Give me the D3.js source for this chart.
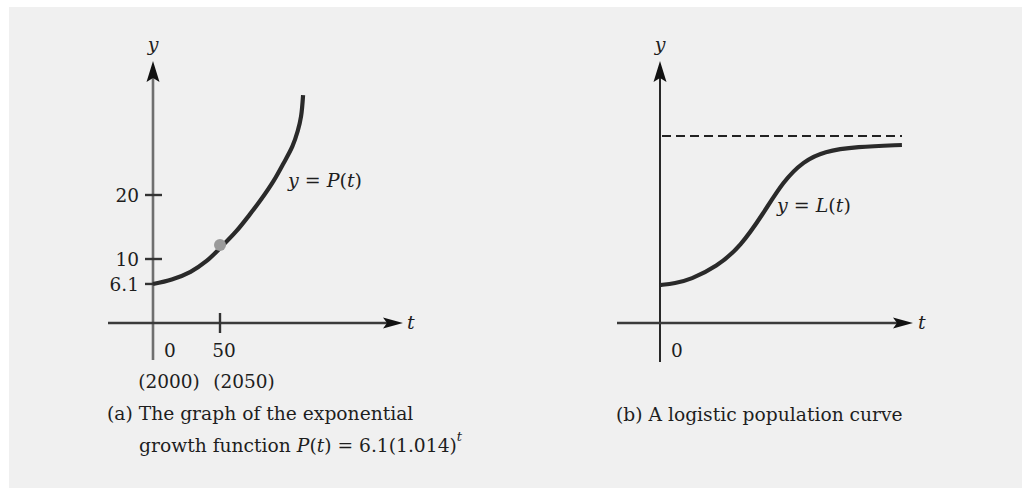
<!DOCTYPE html>
<html>
<head>
<meta charset="utf-8">
<script src="https://cdn.jsdelivr.net/npm/d3@7"></script>
<style>
  html, body { margin: 0; padding: 0; background: #ffffff; }
  svg { display: block; }
  text { font-family: "DejaVu Serif", "Liberation Serif", serif; fill: #1e1e1e; }
  .it { font-style: italic; }
</style>
</head>
<body>
<svg id="chart" width="1022" height="488"></svg>
<script>
// ---- (a) exponential growth P(t) = 6.1(1.014)^t ----
const growthT = [0, 14, 28, 40, 51, 62, 72, 81, 90, 97, 104, 108, 110.5, 112];
const growthP = [6.1, 6.8, 8.0, 9.7, 11.9, 14.3, 16.9, 19.4, 22.2, 24.8, 27.6, 30.0, 32.3, 35.6];
const growthYTicks = [6.1, 10, 20];
const growthXTicks = [50];
const growthXLabels = ["0", "50"];
const growthYearLabels = ["(2000)", "(2050)"];
const markedT = 50;
const markedP = 12.2;

// ---- (b) logistic curve L(t) ----
const logisticT = [0, 6, 12, 22.5, 32, 41, 49, 57, 65, 78, 96];
const logisticL = [20.3, 21.2, 23.2, 30, 41, 58.6, 76, 86.5, 91.8, 94.3, 95.2];
const carryingCapacity = 100;

const svg = d3.select("#chart");

svg.append("rect")
  .attr("x", 9).attr("y", 7).attr("width", 1013).attr("height", 481)
  .attr("fill", "#f0f0f0");

const ink = "#2a2a2a";

function arrowUp(g, x, y) {
  g.append("path")
    .attr("d", `M${x},${y} L${x + 6.5},${y + 21} L${x},${y + 17} L${x - 6.5},${y + 21} Z`)
    .attr("fill", "#111");
}
function arrowRight(g, x, y) {
  g.append("path")
    .attr("d", `M${x},${y} L${x - 20},${y - 5.5} L${x - 16},${y} L${x - 20},${y + 5.5} Z`)
    .attr("fill", "#111");
}

// ================= Panel (a) =================
const ax = d3.scaleLinear().domain([0, 50]).range([153, 220]);
const ay = d3.scaleLinear().domain([0, 20]).range([323, 195]);
const ga = svg.append("g");

// y axis
ga.append("line")
  .attr("x1", ax(0)).attr("x2", ax(0)).attr("y1", 360).attr("y2", 75)
  .attr("stroke", "#6f6f6f").attr("stroke-width", 2.6);
arrowUp(ga, ax(0), 61);
ga.append("text").attr("class", "it")
  .attr("x", ax(0)).attr("y", 51).attr("text-anchor", "middle")
  .attr("font-size", 19).text("y");

// x axis
ga.append("line")
  .attr("x1", 108).attr("x2", 390).attr("y1", ay(0)).attr("y2", ay(0))
  .attr("stroke", "#3a3a3a").attr("stroke-width", 2.6);
arrowRight(ga, 403, ay(0));
ga.append("text").attr("class", "it")
  .attr("x", 407).attr("y", ay(0) + 6).attr("font-size", 19).text("t");

// y ticks
growthYTicks.forEach(v => {
  const right = v === 6.1 ? ax(0) : 162;
  ga.append("line")
    .attr("x1", 145).attr("x2", right).attr("y1", ay(v)).attr("y2", ay(v))
    .attr("stroke", "#333").attr("stroke-width", 2.4);
  ga.append("text")
    .attr("x", 139).attr("y", ay(v) + 7).attr("text-anchor", "end")
    .attr("font-size", 18.5).text(String(v));
});

// x ticks
growthXTicks.forEach(v => {
  ga.append("line")
    .attr("x1", ax(v)).attr("x2", ax(v)).attr("y1", ay(0) - 10).attr("y2", ay(0) + 10)
    .attr("stroke", "#333").attr("stroke-width", 2.4);
});
[0, 50].forEach((v, i) => {
  ga.append("text")
    .attr("x", i === 0 ? ax(v) + 17 : ax(v) + 4).attr("y", 357).attr("text-anchor", "middle")
    .attr("font-size", 18.5).text(growthXLabels[i]);
  ga.append("text")
    .attr("x", i === 0 ? 169 : 244).attr("y", 388).attr("text-anchor", "middle")
    .attr("font-size", 18.5).text(growthYearLabels[i]);
});

// growth curve
const growthLine = d3.line()
  .x((d, i) => ax(growthT[i]))
  .y((d, i) => ay(growthP[i]))
  .curve(d3.curveCatmullRom.alpha(0.5));
ga.append("path")
  .datum(growthT)
  .attr("d", growthLine)
  .attr("fill", "none").attr("stroke", ink).attr("stroke-width", 4.2)
  .attr("stroke-linecap", "butt");

ga.append("circle")
  .attr("cx", ax(markedT)).attr("cy", ay(markedP)).attr("r", 6)
  .attr("fill", "#9a9a9a");

// curve label
const pl = ga.append("text").attr("x", 288).attr("y", 187).attr("font-size", 19);
pl.append("tspan").attr("class", "it").text("y");
pl.append("tspan").text(" = ");
pl.append("tspan").attr("class", "it").text("P");
pl.append("tspan").text("(");
pl.append("tspan").attr("class", "it").text("t");
pl.append("tspan").text(")");

// caption (a)
ga.append("text").attr("x", 107).attr("y", 420).attr("font-size", 18.7)
  .text("(a) The graph of the exponential");
const cap2 = ga.append("text").attr("x", 139).attr("y", 452).attr("font-size", 18.7);
cap2.append("tspan").text("growth function ");
cap2.append("tspan").attr("class", "it").text("P");
cap2.append("tspan").text("(");
cap2.append("tspan").attr("class", "it").text("t");
cap2.append("tspan").text(") = 6.1(1.014)");
cap2.append("tspan").attr("class", "it").attr("font-size", 13).attr("dy", -11).text("t");

// ================= Panel (b) =================
const bx = d3.scaleLinear().domain([0, 100]).range([660, 912]);
const by = d3.scaleLinear().domain([0, carryingCapacity]).range([323, 136]);
const gb = svg.append("g");

gb.append("line")
  .attr("x1", bx(0)).attr("x2", bx(0)).attr("y1", 362).attr("y2", 75)
  .attr("stroke", "#111").attr("stroke-width", 1.8);
arrowUp(gb, bx(0), 61);
gb.append("text").attr("class", "it")
  .attr("x", bx(0)).attr("y", 51).attr("text-anchor", "middle")
  .attr("font-size", 19).text("y");

gb.append("line")
  .attr("x1", 617).attr("x2", 900).attr("y1", by(0)).attr("y2", by(0))
  .attr("stroke", "#3a3a3a").attr("stroke-width", 2.6);
arrowRight(gb, 913, by(0));
gb.append("text").attr("class", "it")
  .attr("x", 918).attr("y", by(0) + 6).attr("font-size", 19).text("t");

gb.append("text")
  .attr("x", bx(0) + 17).attr("y", 357).attr("text-anchor", "middle")
  .attr("font-size", 18.5).text("0");

// asymptote at the carrying capacity
gb.append("line")
  .attr("x1", bx(0) + 2).attr("x2", 902).attr("y1", by(carryingCapacity)).attr("y2", by(carryingCapacity))
  .attr("stroke", "#222").attr("stroke-width", 2)
  .attr("stroke-dasharray", "9,5");

const logisticLine = d3.line()
  .x((d, i) => bx(logisticT[i]))
  .y((d, i) => by(logisticL[i]))
  .curve(d3.curveBasis);
gb.append("path")
  .datum(logisticT)
  .attr("d", logisticLine)
  .attr("fill", "none").attr("stroke", ink).attr("stroke-width", 4.2);

const ll = gb.append("text").attr("x", 777).attr("y", 212).attr("font-size", 19);
ll.append("tspan").attr("class", "it").text("y");
ll.append("tspan").text(" = ");
ll.append("tspan").attr("class", "it").text("L");
ll.append("tspan").text("(");
ll.append("tspan").attr("class", "it").text("t");
ll.append("tspan").text(")");

gb.append("text").attr("x", 616).attr("y", 421).attr("font-size", 18.7)
  .text("(b) A logistic population curve");
</script>
</body>
</html>
